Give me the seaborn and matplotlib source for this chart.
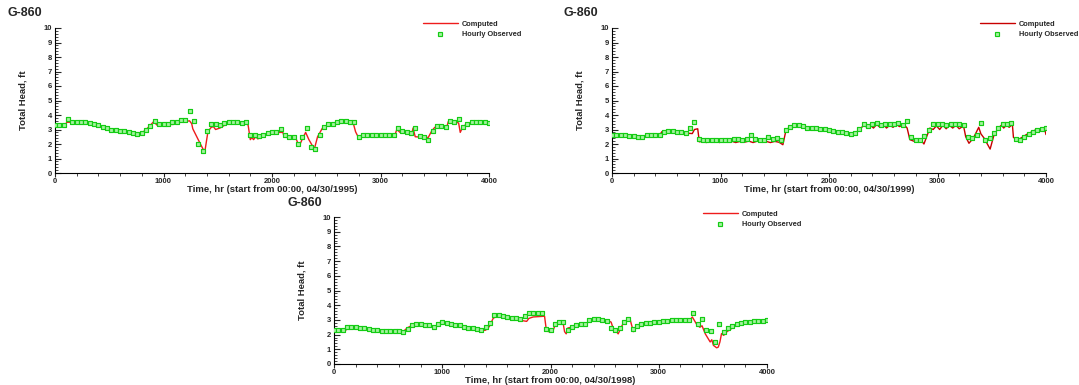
import numpy as np
import pandas as pd
import matplotlib
matplotlib.use("Agg")
import matplotlib.pyplot as plt
from matplotlib.lines import Line2D
from matplotlib.ticker import MultipleLocator
import seaborn as sns

# observed heads, sampled every 40 hr
OBS_HOURS = np.arange(0, 4001, 40)

OBS_1995 = [
    3.3, 3.3, 3.3, 3.7, 3.55, 3.5, 3.5, 3.5, 3.45, 3.35,
    3.28, 3.18, 3.08, 3.0, 2.97, 2.92, 2.87, 2.82, 2.78, 2.68,
    2.75, 3.0, 3.25, 3.6, 3.35, 3.4, 3.4, 3.5, 3.55, 3.65,
    3.65, 4.3, 3.6, 2.0, 1.5, 2.9, 3.4, 3.4, 3.3, 3.45,
    3.55, 3.55, 3.5, 3.45, 3.55, 2.65, 2.6, 2.55, 2.65, 2.75,
    2.8, 2.83, 3.05, 2.6, 2.5, 2.5, 2.0, 2.5, 3.1, 1.8,
    1.65, 2.6, 3.15, 3.35, 3.4, 3.5, 3.6, 3.6, 3.55, 3.5,
    2.5, 2.6, 2.6, 2.6, 2.6, 2.6, 2.6, 2.6, 2.65, 3.1,
    2.9, 2.8, 2.75, 3.1, 2.55, 2.5, 2.3, 2.9, 3.25, 3.25,
    3.2, 3.6, 3.5, 3.75, 3.15, 3.4, 3.5, 3.5, 3.5, 3.5,
    3.45,
]

OBS_1999 = [
    2.65, 2.65, 2.62, 2.6, 2.58, 2.55, 2.5, 2.48, 2.62, 2.65,
    2.65, 2.65, 2.85, 2.88, 2.88, 2.85, 2.8, 2.75, 3.1, 3.55,
    2.35, 2.3, 2.3, 2.3, 2.3, 2.3, 2.3, 2.3, 2.35, 2.35,
    2.3, 2.35, 2.65, 2.35, 2.3, 2.3, 2.5, 2.35, 2.4, 2.25,
    2.95, 3.2, 3.28, 3.28, 3.25, 3.1, 3.1, 3.08, 3.05, 3.02,
    2.98, 2.92, 2.85, 2.8, 2.75, 2.72, 2.75, 3.05, 3.4, 3.25,
    3.4, 3.45, 3.3, 3.4, 3.35, 3.4, 3.45, 3.3, 3.6, 2.45,
    2.3, 2.3, 2.55, 3.0, 3.35, 3.35, 3.35, 3.3, 3.4, 3.35,
    3.35, 3.3, 2.5, 2.4, 2.6, 3.45, 2.3, 2.4, 2.75, 3.1,
    3.4, 3.4, 3.45, 2.35, 2.3, 2.5, 2.7, 2.85, 2.95, 3.05,
    3.1,
]

OBS_1998 = [
    2.3, 2.3, 2.3, 2.5, 2.5, 2.5, 2.45, 2.42, 2.38, 2.33,
    2.3, 2.27, 2.25, 2.25, 2.23, 2.22, 2.2, 2.4, 2.65, 2.72,
    2.72, 2.68, 2.65, 2.55, 2.7, 2.88, 2.82, 2.75, 2.68, 2.62,
    2.55, 2.48, 2.42, 2.36, 2.3, 2.5, 2.8, 3.3, 3.3, 3.25,
    3.2, 3.15, 3.1, 3.05, 3.25, 3.5, 3.5, 3.5, 3.45, 2.4,
    2.3, 2.75, 2.85, 2.85, 2.3, 2.55, 2.65, 2.7, 2.75, 3.0,
    3.05, 3.05, 3.0, 2.95, 2.45, 2.3, 2.45, 2.85, 3.05, 2.35,
    2.6, 2.75, 2.8, 2.8, 2.85, 2.88, 2.9, 2.95, 3.0, 3.0,
    2.98, 2.98, 3.0, 3.45, 2.7, 3.05, 2.3, 2.25, 1.5, 2.75,
    2.2, 2.45, 2.6, 2.75, 2.8, 2.85, 2.88, 2.9, 2.9, 2.9,
    3.0,
]

# computed heads (model output vertices)
COMP_1995_HR = [0, 90, 110, 160, 300, 400, 500, 600, 700, 770, 840, 880, 910, 940,
                1000, 1090, 1120, 1200, 1240, 1260, 1270, 1300, 1340, 1380, 1410,
                1440, 1460, 1480, 1520, 1575, 1640, 1760, 1780, 1800, 1815, 1830,
                1850, 1870, 1900, 1960, 2000, 2100, 2110, 2130, 2150, 2220, 2250,
                2280, 2310, 2340, 2390, 2420, 2465, 2525, 2590, 2620, 2745, 2770,
                2790, 3000, 3130, 3150, 3180, 3240, 3290, 3300, 3320, 3440, 3470,
                3500, 3610, 3625, 3700, 3720, 3735, 3760, 3800, 3900, 3980, 4000]
COMP_1995 = [3.3, 3.3, 3.5, 3.5, 3.5, 3.25, 2.95, 2.88, 2.78, 2.58, 3.0, 3.3, 3.55, 3.3,
             3.35, 3.35, 3.5, 3.55, 3.6, 3.4, 3.05, 2.6, 2.0, 1.43, 2.87,
             3.15, 3.2, 3.0, 3.1, 3.35, 3.5, 3.45, 3.3, 2.3, 2.45, 2.3,
             2.5, 2.35, 2.55, 2.7, 2.8, 2.8, 2.55, 2.5, 2.4, 2.4, 1.85,
             2.35, 2.8, 2.3, 1.65, 2.5, 3.1, 3.35, 3.45, 3.55, 3.55, 2.85,
             2.55, 2.55, 2.55, 3.0, 2.8, 2.75, 2.75, 3.1, 2.5, 2.45, 2.87,
             3.15, 3.15, 3.55, 3.5, 3.45, 2.8, 3.2, 3.4, 3.45, 3.45, 3.35]

COMP_1999_HR = [0, 280, 320, 440, 460, 520, 680, 740, 760, 790, 805, 840, 870, 900,
                930, 960, 990, 1020, 1060, 1100, 1140, 1180, 1220, 1260, 1300, 1340,
                1380, 1420, 1460, 1500, 1540, 1575, 1605, 1640, 1670, 1760, 1790,
                1970, 2125, 2190, 2250, 2280, 2330, 2350, 2380, 2410, 2440, 2470,
                2500, 2530, 2560, 2590, 2620, 2650, 2690, 2720, 2745, 2780, 2860,
                2875, 2930, 2960, 2990, 3020, 3050, 3080, 3110, 3140, 3170, 3200,
                3240, 3260, 3290, 3330, 3380, 3400, 3430, 3485, 3520, 3560, 3590,
                3610, 3640, 3660, 3690, 3700, 3745, 3820, 3910, 3985, 4000]
COMP_1999 = [2.6, 2.45, 2.6, 2.62, 2.85, 2.88, 2.75, 2.72, 3.0, 3.05, 2.15, 2.2, 2.1, 2.2,
             2.12, 2.2, 2.1, 2.18, 2.12, 2.2, 2.1, 2.18, 2.12, 2.2, 2.1, 2.2,
             2.12, 2.18, 2.1, 2.18, 2.12, 1.95, 3.0, 3.15, 3.25, 3.25, 3.1,
             3.05, 2.75, 2.7, 2.8, 3.0, 3.35, 3.1, 3.3, 3.1, 3.35, 3.15,
             3.35, 3.1, 3.3, 3.15, 3.35, 3.2, 3.35, 3.1, 2.3, 2.2, 2.15,
             2.0, 3.1, 3.0, 3.25, 3.0, 3.3, 3.05, 3.3, 3.1, 3.3, 3.05,
             3.25, 2.5, 2.05, 2.4, 3.15, 2.7, 2.4, 1.65, 2.6, 3.1, 3.3,
             3.1, 3.35, 3.15, 3.35, 2.45, 2.3, 2.65, 3.0, 3.1, 2.65]

COMP_1998_HR = [0, 110, 125, 210, 330, 490, 640, 675, 735, 860, 940, 985, 1020, 1140,
                1265, 1370, 1400, 1435, 1470, 1500, 1545, 1670, 1740, 1780, 1800,
                1840, 1945, 1960, 1980, 2000, 2020, 2050, 2115, 2130, 2145, 2160,
                2330, 2360, 2515, 2560, 2580, 2610, 2625, 2670, 2735, 2765, 2800,
                2890, 3010, 3105, 3290, 3310, 3350, 3380, 3400, 3430, 3475, 3490,
                3505, 3535, 3550, 3565, 3580, 3600, 3630, 3690, 3750, 3875, 3970, 4000]
COMP_1998 = [2.3, 2.3, 2.5, 2.5, 2.37, 2.25, 2.2, 2.45, 2.68, 2.65, 2.5, 2.85, 2.82, 2.65,
             2.45, 2.28, 2.3, 2.55, 3.1, 3.25, 3.25, 3.1, 2.95, 2.9, 3.1,
             3.2, 3.25, 2.4, 2.2, 2.25, 2.2, 2.8, 2.85, 2.2, 2.05, 2.45,
             2.7, 3.0, 3.0, 2.85, 2.4, 2.2, 2.05, 2.75, 3.05, 2.2, 2.65,
             2.8, 2.85, 3.0, 3.0, 3.2, 2.7, 2.5, 2.6, 2.05, 1.5, 1.65,
             1.27, 1.1, 1.15, 1.5, 2.07, 1.95, 2.2, 2.5, 2.75, 2.85, 2.8, 3.0]

WELL = "G-860"
YEAR_LABELS = ["04/30/1995", "04/30/1999", "04/30/1998"]

FIG_W, FIG_H = 1079, 385

sns.set_style("white")
plt.rcParams['font.family'] = ['Liberation Sans', 'DejaVu Sans']
plt.rcParams['font.weight'] = 'bold'

fig = plt.figure(figsize=(FIG_W / 100, FIG_H / 100), dpi=100)


def px_axes(x0, x1, y_top, y_bot):
    return fig.add_axes([x0 / FIG_W, 1 - y_bot / FIG_H,
                         (x1 - x0) / FIG_W, (y_bot - y_top) / FIG_H])


panels = [
    # axes box (px), title pos, legend pos, line colour, data
    dict(box=(55, 489, 28, 173), title=(7, 13), leg=(419, 17), lc='#ee1c1c',
         comp=(COMP_1995_HR, COMP_1995), obs=OBS_1995, year=YEAR_LABELS[0]),
    dict(box=(612, 1046, 28, 173), title=(564, 13), leg=(976, 17), lc='#c80000',
         comp=(COMP_1999_HR, COMP_1999), obs=OBS_1999, year=YEAR_LABELS[1]),
    dict(box=(334, 767, 217, 364), title=(287, 203), leg=(699, 207), lc='#ee1c1c',
         comp=(COMP_1998_HR, COMP_1998), obs=OBS_1998, year=YEAR_LABELS[2]),
]

obs_edge = '#14cc14'
obs_face = '#a6f2a0'

for p in panels:
    ax = px_axes(*p['box'])
    comp = pd.DataFrame({'hour': p['comp'][0], 'head': p['comp'][1]})
    obs = pd.DataFrame({'hour': OBS_HOURS, 'head': p['obs']})

    sns.lineplot(data=comp, x='hour', y='head', ax=ax, color=p['lc'],
                 linewidth=1.0, sort=False, zorder=2)
    sns.scatterplot(data=obs, x='hour', y='head', ax=ax, marker='s', s=5,
                    facecolor=obs_face, edgecolor=obs_edge, linewidth=0.85,
                    zorder=3)

    ax.set_xlim(0, 4000)
    ax.set_ylim(0, 10)
    ax.xaxis.set_major_locator(MultipleLocator(1000))
    ax.xaxis.set_minor_locator(MultipleLocator(200))
    ax.yaxis.set_major_locator(MultipleLocator(1))
    ax.yaxis.set_minor_locator(MultipleLocator(0.2))
    ax.tick_params(axis='x', which='major', direction='out', length=3, width=0.8,
                   labelsize=5.5, pad=0.5)
    ax.tick_params(axis='x', which='minor', direction='out', length=2, width=0.6)
    ax.tick_params(axis='y', which='major', direction='in', length=4, width=0.8,
                   labelsize=5.5, pad=2)
    ax.tick_params(axis='y', which='minor', direction='in', length=2, width=0.6)
    ax.tick_params(bottom=True, left=True, which='both')
    for lab in ax.get_xticklabels() + ax.get_yticklabels():
        lab.set_fontweight('bold')

    sns.despine(ax=ax)
    for side in ('left', 'bottom'):
        ax.spines[side].set_linewidth(0.8)
        ax.spines[side].set_color('black')

    ax.set_xlabel(f"Time, hr (start from 00:00, {p['year']})", fontsize=6.8,
                  fontweight='bold', labelpad=0)
    ax.set_ylabel("Total Head, ft", fontsize=6.8, fontweight='bold', labelpad=12)

    tx, ty = p['title']
    fig.text(tx / FIG_W, 1 - ty / FIG_H, WELL, fontsize=9, fontweight='bold',
             ha='left', va='center')

    handles = [
        Line2D([], [], color=p['lc'], linewidth=1.0),
        Line2D([], [], linestyle='none', marker='s', markersize=2.4,
               markerfacecolor=obs_face, markeredgecolor=obs_edge,
               markeredgewidth=0.85),
    ]
    lx, ly = p['leg']
    ax.legend(handles, ["Computed", "Hourly Observed"], loc='upper left',
              bbox_to_anchor=(lx / FIG_W, 1 - ly / FIG_H),
              bbox_transform=fig.transFigure, frameon=False, borderpad=0,
              handlelength=4.8, handletextpad=0.5, labelspacing=0.45,
              prop={'size': 5.3, 'weight': 'bold'})

fig.savefig("out.png", dpi=100)
